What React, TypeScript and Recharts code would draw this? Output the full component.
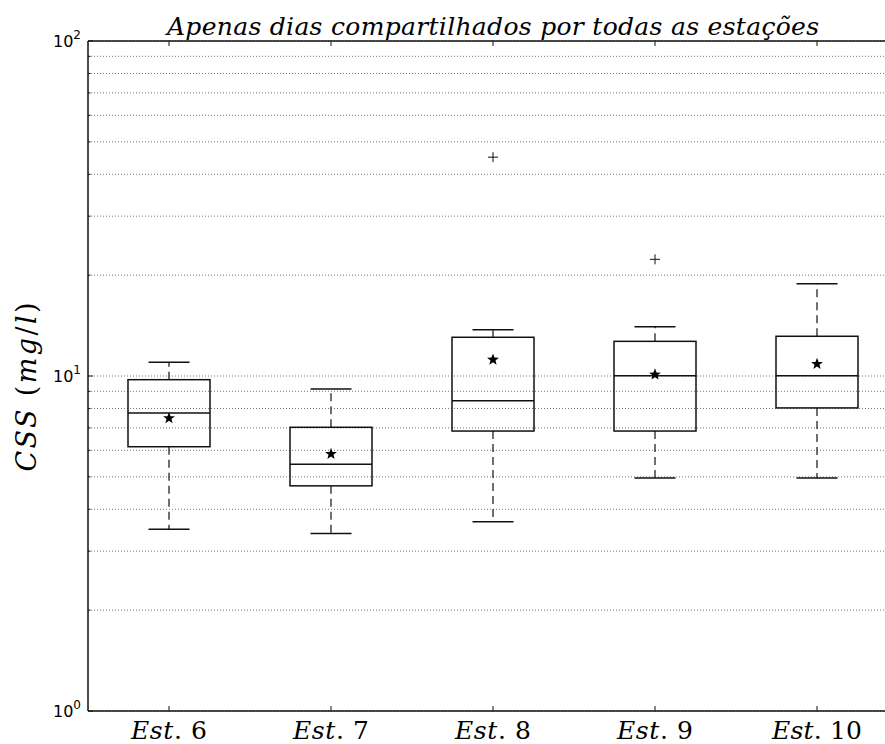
import { ComposedChart, Bar, Scatter, XAxis, YAxis, CartesianGrid } from 'recharts';

// values (log scale, mg/l)
const categories = ['Est. 6', 'Est. 7', 'Est. 8', 'Est. 9', 'Est. 10'];
const whiskerLow = [3.49, 3.39, 3.67, 4.96, 4.96];
const q1 = [6.15, 4.7, 6.85, 6.85, 8.03];
const medians = [7.76, 5.45, 8.44, 10.02, 10.02];
const q3 = [9.75, 7.03, 13.05, 12.69, 13.14];
const whiskerHigh = [11.0, 9.15, 13.75, 14.04, 18.86];
const means = [7.48, 5.85, 11.19, 10.1, 10.86];
const outliers: (number | null)[] = [null, null, 45, 22.3, null];

const yTicks = [1, 2, 3, 4, 5, 6, 7, 8, 9, 10, 20, 30, 40, 50, 60, 70, 80, 90, 100];
const majorTicks = [1, 10, 100];

const data = categories.map((name, i) => ({
  name,
  lower: [whiskerLow[i], q1[i]],
  box: [q1[i], q3[i]],
  upper: [q3[i], whiskerHigh[i]],
  median: medians[i],
  mean: means[i],
  outlier: outliers[i],
}));

const BOX_W = 82;
const INK = '#111';
const serif = 'DejaVu Serif, serif';

const BoxShape = ({ x, y, width, height }: any) => (
  <rect x={x} y={y} width={width} height={height} fill="none" stroke={INK} strokeWidth={1.5} />
);

const UpperWhisker = ({ x, y, width, height }: any) => {
  const cx = x + width / 2;
  return (
    <g>
      <line x1={cx} x2={cx} y1={y + height} y2={y} stroke={INK} strokeWidth={1.2} strokeDasharray="8 5" />
      <line x1={cx - width / 4} x2={cx + width / 4} y1={y} y2={y} stroke={INK} strokeWidth={1.5} />
    </g>
  );
};

const LowerWhisker = ({ x, y, width, height }: any) => {
  const cx = x + width / 2;
  return (
    <g>
      <line x1={cx} x2={cx} y1={y} y2={y + height} stroke={INK} strokeWidth={1.2} strokeDasharray="8 5" />
      <line x1={cx - width / 4} x2={cx + width / 4} y1={y + height} y2={y + height} stroke={INK} strokeWidth={1.5} />
    </g>
  );
};

const MedianShape = ({ cx, cy }: any) => (
  <line x1={cx - BOX_W / 2} x2={cx + BOX_W / 2} y1={cy} y2={cy} stroke={INK} strokeWidth={1.5} />
);

const StarShape = ({ cx, cy }: any) => {
  const pts = Array.from({ length: 10 }, (_, k) => {
    const a = -Math.PI / 2 + (k * Math.PI) / 5;
    const r = k % 2 ? 2.6 : 6.2;
    return `${cx + r * Math.cos(a)},${cy + r * Math.sin(a)}`;
  }).join(' ');
  return <polygon points={pts} fill="#000" />;
};

const PlusShape = ({ cx, cy, payload }: any) => {
  if (payload?.outlier == null || !isFinite(cy)) return <g />;
  return (
    <g stroke={INK} strokeWidth={1}>
      <line x1={cx - 5} x2={cx + 5} y1={cy} y2={cy} />
      <line x1={cx} x2={cx} y1={cy - 5} y2={cy + 5} />
    </g>
  );
};

const YTick = ({ x, y, payload }: any) => {
  const v = payload.value;
  const major = majorTicks.includes(v);
  return (
    <g>
      <line x1={x} x2={x + (major ? 5 : 2.5)} y1={y} y2={y} stroke={INK} />
      {major && (
        <text x={x - 7} y={y + 6} textAnchor="end" fontFamily="DejaVu Sans, sans-serif" fontSize={16} fill="#000">
          10
          <tspan dy={-8} fontSize={12}>
            {Math.round(Math.log10(v))}
          </tspan>
        </text>
      )}
    </g>
  );
};

const XTick = ({ x, y, payload }: any) => {
  const [word, num] = String(payload.value).split('. ');
  return (
    <g>
      <line x1={x} x2={x} y1={y} y2={y - 5} stroke={INK} />
      <text
        x={x}
        y={y + 28}
        textAnchor="middle"
        fontFamily={serif}
        fontSize={25}
        fill="#000"
        textLength={num.length > 1 ? 90 : 76}
        lengthAdjust="spacing"
      >
        <tspan fontStyle="italic">{word}</tspan>. {num}
      </text>
    </g>
  );
};

const TopTick = ({ x, y }: any) => <line x1={x} x2={x} y1={y} y2={y + 5} stroke={INK} />;

const TitleLabel = ({ viewBox }: any) => (
  <text
    x={viewBox.x + viewBox.width / 2}
    y={viewBox.y - 5}
    textAnchor="middle"
    fontFamily={serif}
    fontStyle="italic"
    fontSize={25}
    fill="#000"
    textLength={652}
    lengthAdjust="spacing"
  >
    Apenas dias compartilhados por todas as estações
  </text>
);

const YLabel = ({ viewBox }: any) => {
  const cx = viewBox.x + 36;
  const cy = viewBox.y + viewBox.height / 2 + 11;
  return (
    <text
      x={cx}
      y={cy}
      transform={`rotate(-90, ${cx}, ${cy})`}
      textAnchor="middle"
      fontFamily={serif}
      fontSize={27}
      fill="#000"
      textLength={169}
      lengthAdjust="spacing"
    >
      <tspan fontStyle="italic">CSS</tspan> (<tspan fontStyle="italic">mg</tspan>/<tspan fontStyle="italic">l</tspan>)
    </text>
  );
};

export default function App() {
  return (
    <div style={{ position: 'fixed', left: 0, top: 0, width: 885, height: 744, overflow: 'hidden', background: '#fff' }}>
      <ComposedChart
        width={900}
        height={744}
        data={data}
        margin={{ top: 40, right: 2, bottom: 0, left: 0 }}
        barGap={-BOX_W}
      >
        <CartesianGrid vertical={false} stroke="#777" strokeDasharray="1 2" />
        <XAxis
          dataKey="name"
          scale="band"
          height={33}
          axisLine={{ stroke: INK, strokeWidth: 1.5 }}
          tickLine={false}
          tickSize={0}
          tickMargin={0}
          interval={0}
          tick={<XTick />}
        />
        <XAxis
          xAxisId="top"
          orientation="top"
          dataKey="name"
          scale="band"
          height={1}
          axisLine={{ stroke: INK, strokeWidth: 1.5 }}
          tickLine={false}
          tickSize={0}
          tickMargin={0}
          interval={0}
          tick={<TopTick />}
          label={<TitleLabel />}
        />
        <YAxis
          type="number"
          scale="log"
          domain={[1, 100]}
          ticks={yTicks}
          interval={0}
          allowDataOverflow
          width={88}
          axisLine={{ stroke: INK, strokeWidth: 1.5 }}
          tickLine={false}
          tickSize={0}
          tickMargin={0}
          tick={<YTick />}
          label={<YLabel />}
        />
        <Bar dataKey="lower" barSize={BOX_W} shape={<LowerWhisker />} isAnimationActive={false} />
        <Bar dataKey="upper" barSize={BOX_W} shape={<UpperWhisker />} isAnimationActive={false} />
        <Bar dataKey="box" barSize={BOX_W} shape={<BoxShape />} isAnimationActive={false} />
        <Scatter dataKey="median" shape={<MedianShape />} isAnimationActive={false} />
        <Scatter dataKey="mean" shape={<StarShape />} isAnimationActive={false} />
        <Scatter dataKey="outlier" shape={<PlusShape />} isAnimationActive={false} />
      </ComposedChart>
    </div>
  );
}
